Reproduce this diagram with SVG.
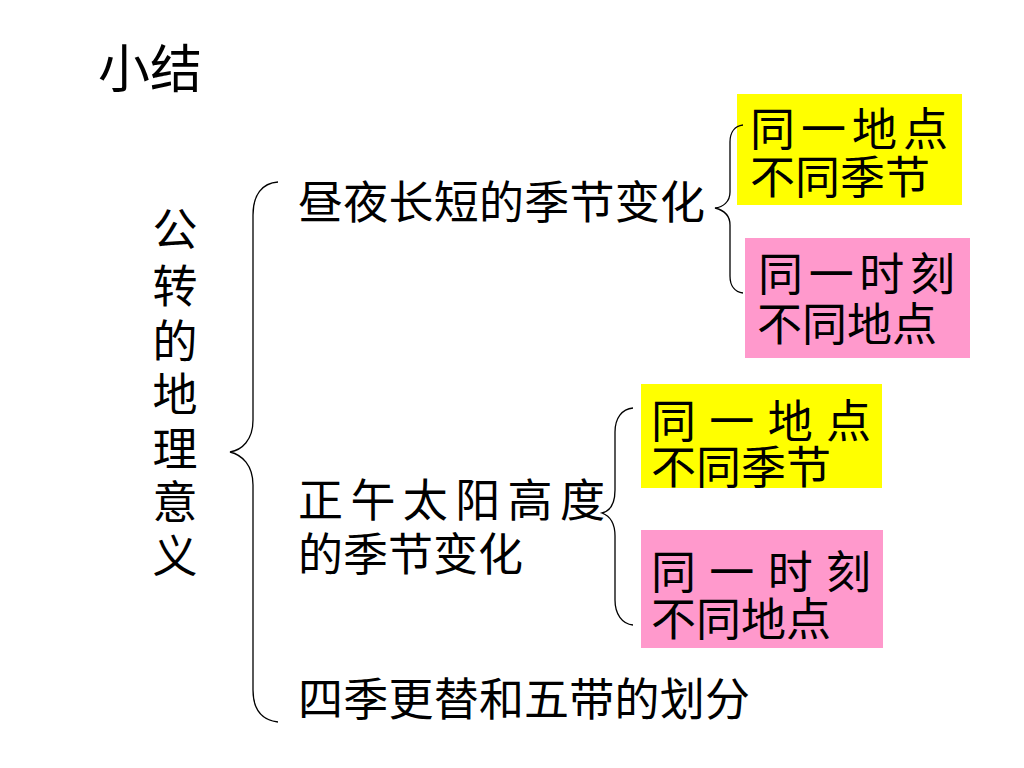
<svg xmlns="http://www.w3.org/2000/svg" width="1024" height="768" viewBox="0 0 1024 768">
<style>
text{font-family:"Noto Sans CJK SC","Liberation Sans",sans-serif;fill:#000;}
.t{font-size:45px;}
.title{font-size:52px;}
.brace{fill:none;stroke:#000;stroke-width:1.3;}
.yel{fill:#FFFF00;}
.pink{fill:#FF99CC;}
</style>
<rect width="1024" height="768" fill="#fff"/>
<g id="title"><text class="title" x="98" y="88">小结</text></g>
<g id="root">
<text class="t" x="175" text-anchor="middle">
<tspan x="175" y="246">公</tspan><tspan x="175" y="303">转</tspan><tspan x="175" y="358">的</tspan><tspan x="175" y="411">地</tspan><tspan x="175" y="466">理</tspan><tspan x="175" y="519">意</tspan><tspan x="175" y="573">义</tspan>
</text>
</g>
<g id="n1"><text class="t" x="298" y="219" textLength="407" lengthAdjust="spacing">昼夜长短的季节变化</text></g>
<g id="n2"><text class="t"><tspan x="298" y="517" textLength="307" lengthAdjust="spacing">正 午 太 阳 高 度</tspan><tspan x="298" y="571">的季节变化</tspan></text></g>
<g id="n3"><text class="t" x="298" y="716" textLength="452" lengthAdjust="spacing">四季更替和五带的划分</text></g>
<g id="b1"><rect class="yel" x="737" y="94" width="225" height="111"/><text class="t"><tspan x="750" y="146" textLength="198" lengthAdjust="spacing">同 一 地 点</tspan><tspan x="750" y="194">不同季节</tspan></text></g>
<g id="b2"><rect class="pink" x="745" y="238" width="225" height="120"/><text class="t"><tspan x="758" y="291" textLength="197" lengthAdjust="spacing">同 一 时 刻</tspan><tspan x="757" y="341">不同地点</tspan></text></g>
<g id="b3"><rect class="yel" x="641" y="384" width="241" height="104"/><text class="t"><tspan x="651" y="438" textLength="220" lengthAdjust="spacing">同 一 地 点</tspan><tspan x="651" y="484">不同季节</tspan></text></g>
<g id="b4"><rect class="pink" x="641" y="530" width="242" height="118"/><text class="t"><tspan x="651" y="589" textLength="220" lengthAdjust="spacing">同 一 时 刻</tspan><tspan x="651" y="636">不同地点</tspan></text></g>
<g id="connectors">
<path class="brace" d="M278,182 C262,183 253,195 253,215 L253,420 C253,440 242,450 230,452 C242,455 253,465 253,485 L253,690 C253,710 262,720 278,722"/>
<path class="brace" d="M743,125 C735,126 730,132 730,142 L730,192 C730,202 723,207 715,208 C723,210 730,215 730,225 L730,276 C730,286 735,292 743,293"/>
<path class="brace" d="M633,408 C622,409 615,418 615,432 L615,490 C615,503 610,511 602,513 C610,516 615,523 615,536 L615,600 C615,614 622,624 633,625"/>
</g>
</svg>
